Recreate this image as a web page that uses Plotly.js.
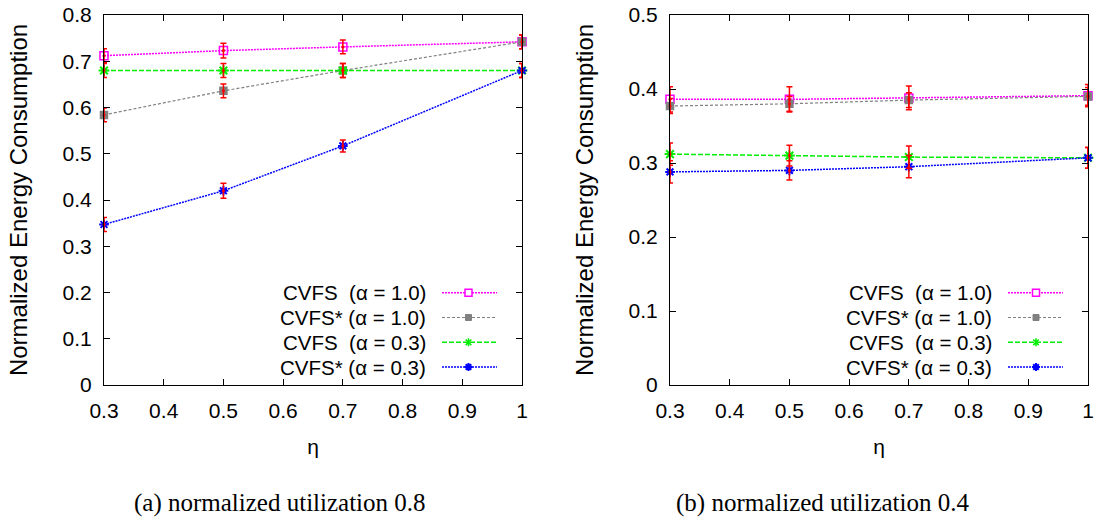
<!DOCTYPE html>
<html>
<head>
<meta charset="utf-8">
<script src="https://cdn.plot.ly/plotly-3.0.1.min.js"></script>
<style>html,body{margin:0;padding:0;background:#fff;}#chart{width:1104px;height:529px;}</style>
</head>
<body>
<div id="chart"></div>
<script>
// ---------- data ----------
const eta = [0.3, 0.5, 0.7, 1.0];
const xTickVals = [0.3, 0.4, 0.5, 0.6, 0.7, 0.8, 0.9, 1.0];
const xTickText = ['0.3', '0.4', '0.5', '0.6', '0.7', '0.8', '0.9', '1'];
const seriesNames = ['CVFS  (α = 1.0)', 'CVFS* (α = 1.0)', 'CVFS  (α = 0.3)', 'CVFS* (α = 0.3)'];

// (a) normalized utilization 0.8
const a_cvfs10 = [0.712, 0.723, 0.731, 0.742];
const a_cvfsS10 = [0.584, 0.636, 0.680, 0.742];
const a_cvfs03 = [0.680, 0.680, 0.680, 0.680];
const a_cvfsS03 = [0.347, 0.420, 0.517, 0.680];
const a_err10 = [0.015, 0.016, 0.015, 0.015];
const a_errS10 = [0.015, 0.015, 0.015, 0.015];
const a_err03 = [0.015, 0.015, 0.015, 0.015];
const a_errS03 = [0.015, 0.016, 0.013, 0.015];

// (b) normalized utilization 0.4
const b_cvfs10 = [0.386, 0.386, 0.388, 0.391];
const b_cvfsS10 = [0.377, 0.380, 0.385, 0.390];
const b_cvfs03 = [0.312, 0.310, 0.308, 0.307];
const b_cvfsS03 = [0.288, 0.290, 0.295, 0.307];
const b_err10 = [0.017, 0.017, 0.016, 0.015];
const b_errS10 = [0.010, 0.010, 0.010, 0.012];
const b_err03 = [0.015, 0.014, 0.015, 0.014];
const b_errS03 = [0.015, 0.013, 0.015, 0.014];

const yTickA = [0, 0.1, 0.2, 0.3, 0.4, 0.5, 0.6, 0.7, 0.8];
const yTickAText = ['0', '0.1', '0.2', '0.3', '0.4', '0.5', '0.6', '0.7', '0.8'];
const yTickB = [0, 0.1, 0.2, 0.3, 0.4, 0.5];
const yTickBText = ['0', '0.1', '0.2', '0.3', '0.4', '0.5'];
const captions = ['(a) normalized utilization 0.8', '(b) normalized utilization 0.4'];

// ---------- styling ----------
const W = 1104, H = 529;
const px = x => x / W;
const py = y => 1 - y / H;
const styles = [
  {color: '#ff00ff', dash: '2px,1px', symbol: 'square-open', size: 8, lw: 1.5},
  {color: '#808080', dash: '3px,2px', symbol: 'square', size: 7, lw: 1.2},
  {color: '#00ee00', dash: '5px,2px', symbol: 'asterisk-open', size: 9, lw: 1.5},
  {color: '#0000ff', dash: '2px,1px', symbol: 'asterisk-open', size: 8, lw: 1.5}
];
const FONT = 'Liberation Sans, Arial, sans-serif';

function makeTraces(ys, errs, xa, ya) {
  const tr = [];
  ys.forEach((y, i) => {
    const s = styles[i];
    tr.push({
      x: eta, y: y, xaxis: xa, yaxis: ya, type: 'scatter', mode: 'lines+markers',
      name: seriesNames[i], showlegend: false, cliponaxis: false,
      line: {color: s.color, width: s.lw, dash: s.dash},
      marker: {symbol: s.symbol, size: s.size, color: s.color, line: {color: s.color, width: i >= 2 ? 2 : 1.5}}
    });
  });
  ys.forEach((y, i) => {
    tr.push({
      x: eta, y: y, xaxis: xa, yaxis: ya, type: 'scatter', mode: 'markers',
      showlegend: false, cliponaxis: false, hoverinfo: 'skip',
      marker: {size: 3, color: '#ff0000'},
      error_y: {type: 'data', array: errs[i], visible: true, color: '#ff0000', thickness: 1.5, width: 3}
    });
  });
  return tr;
}

const data = [].concat(
  makeTraces([a_cvfs10, a_cvfsS10, a_cvfs03, a_cvfsS03], [a_err10, a_errS10, a_err03, a_errS03], 'x', 'y'),
  makeTraces([b_cvfs10, b_cvfsS10, b_cvfs03, b_cvfsS03], [b_err10, b_errS10, b_err03, b_errS03], 'x2', 'y2')
);

const ydom = [py(385), py(15)];
function xAxis(dom) {
  return {
    domain: dom, range: [0.3, 1.0], tickvals: xTickVals, ticktext: xTickText,
    ticks: 'inside', ticklen: 6, tickcolor: '#000', mirror: 'allticks', showline: true,
    linecolor: '#000', linewidth: 1, showgrid: false, zeroline: false,
    tickfont: {family: FONT, size: 21, color: '#000'}, ticklabelstandoff: 7,
    title: {text: 'η', font: {family: FONT, size: 21, color: '#000'}, standoff: 18},
    automargin: false, fixedrange: true
  };
}
function yAxis(dom, range, vals, text, anchor) {
  return {
    domain: dom, range: range, tickvals: vals, ticktext: text, anchor: anchor,
    ticks: 'inside', ticklen: 6, tickcolor: '#000', mirror: 'allticks', showline: true,
    linecolor: '#000', linewidth: 1, showgrid: false, zeroline: false,
    tickfont: {family: FONT, size: 21, color: '#000'}, ticklabelstandoff: 7,
    title: {text: 'Normalized Energy Consumption', font: {family: FONT, size: 24, color: '#000'}, standoff: 28},
    automargin: false, fixedrange: true
  };
}

// custom legend (text right-aligned, sample to the right)
const shapes = [], annotations = [];
const rowsY = [292.7, 317.5, 342.3, 367];
const legends = [
  {textRight: 427.5, x0: 442, x1: 497, xm: 468.5},
  {textRight: 993.5, x0: 1008, x1: 1063, xm: 1036}
];
legends.forEach(L => {
  rowsY.forEach((ry, i) => {
    const s = styles[i];
    annotations.push({
      xref: 'paper', yref: 'paper', x: px(L.textRight), y: py(ry), xanchor: 'right', yanchor: 'middle',
      text: seriesNames[i].replace(/  /g, '&nbsp; '), showarrow: false,
      font: {family: FONT, size: 20.5, color: '#000'}
    });
    shapes.push({type: 'line', xref: 'paper', yref: 'paper', x0: px(L.x0), x1: px(L.x1), y0: py(ry), y1: py(ry),
      line: {color: s.color, width: s.lw, dash: s.dash}});
    const h = 3.5;
    if (i === 0) {
      shapes.push({type: 'rect', xref: 'paper', yref: 'paper', x0: px(L.xm - h), x1: px(L.xm + h), y0: py(ry - h), y1: py(ry + h),
        line: {color: s.color, width: 1.5}, fillcolor: '#ffffff'});
    } else if (i === 1) {
      shapes.push({type: 'rect', xref: 'paper', yref: 'paper', x0: px(L.xm - 3), x1: px(L.xm + 3), y0: py(ry - 3), y1: py(ry + 3),
        line: {color: s.color, width: 1}, fillcolor: s.color});
    } else {
      const r = 4;
      const d = r * 0.7;
      const p = `M${px(L.xm)},${py(ry - r)} L${px(L.xm)},${py(ry + r)} ` +
        `M${px(L.xm - d)},${py(ry - d)} L${px(L.xm + d)},${py(ry + d)} ` +
        `M${px(L.xm - d)},${py(ry + d)} L${px(L.xm + d)},${py(ry - d)}` +
        (i === 3 ? ` M${px(L.xm - r)},${py(ry)} L${px(L.xm + r)},${py(ry)}` : '');
      shapes.push({type: 'path', xref: 'paper', yref: 'paper', path: p, line: {color: s.color, width: i === 3 ? 2 : 1.5}});
    }
  });
});

// captions
annotations.push({xref: 'paper', yref: 'paper', x: px(280), y: py(503), xanchor: 'center', yanchor: 'middle',
  text: captions[0], showarrow: false, font: {family: 'Liberation Serif, serif', size: 25, color: '#000'}});
annotations.push({xref: 'paper', yref: 'paper', x: px(822), y: py(503), xanchor: 'center', yanchor: 'middle',
  text: captions[1], showarrow: false, font: {family: 'Liberation Serif, serif', size: 25, color: '#000'}});

const layout = {
  width: W, height: H,
  margin: {l: 0, r: 0, t: 0, b: 0},
  paper_bgcolor: '#ffffff', plot_bgcolor: '#ffffff',
  showlegend: false,
  xaxis: xAxis([px(104), px(522)]),
  yaxis: yAxis(ydom, [0, 0.8], yTickA, yTickAText, 'x'),
  xaxis2: Object.assign(xAxis([px(670), px(1088)]), {anchor: 'y2'}),
  yaxis2: yAxis(ydom, [0, 0.5], yTickB, yTickBText, 'x2'),
  shapes: shapes,
  annotations: annotations
};
layout.xaxis.anchor = 'y';

Plotly.newPlot('chart', data, layout, {staticPlot: true, displayModeBar: false});
</script>
</body>
</html>
